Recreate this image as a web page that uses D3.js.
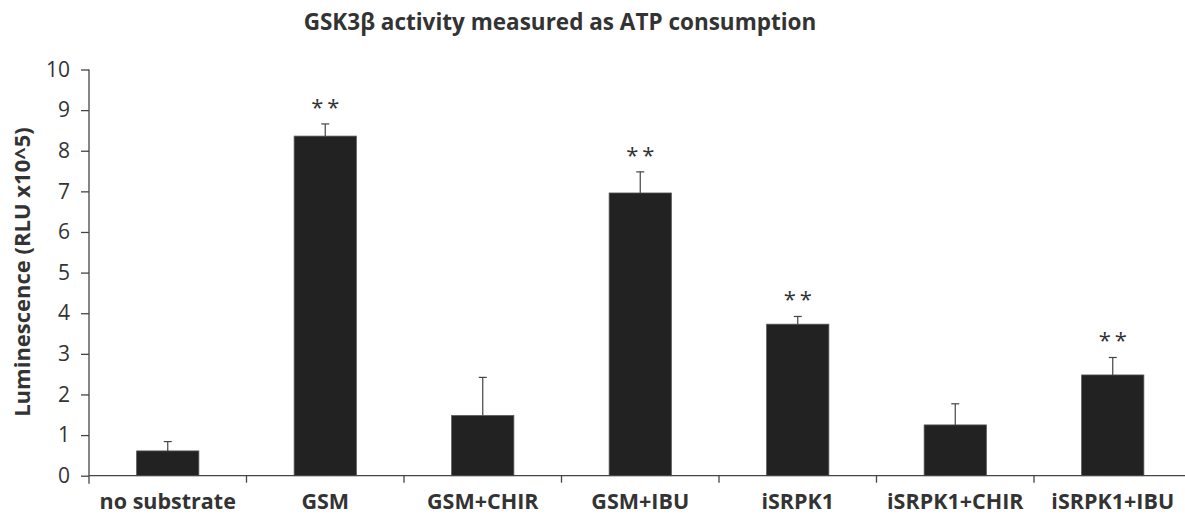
<!DOCTYPE html>
<html><head><meta charset="utf-8">
<script src="https://cdn.jsdelivr.net/npm/d3@7"></script>
<style>
html,body{margin:0;padding:0;background:#fff;}
text{font-family:"Open Sans",sans-serif;fill:#333;}
</style></head>
<body>
<svg id="chart" width="1185" height="523"></svg>
<script>
const categories = ["no substrate","GSM","GSM+CHIR","GSM+IBU","iSRPK1","iSRPK1+CHIR","iSRPK1+IBU"];
const means = [0.61, 8.36, 1.48, 6.96, 3.73, 1.25, 2.48];
const errors = [0.23, 0.30, 0.94, 0.52, 0.19, 0.52, 0.43];
const significance = ["", "**", "", "**", "**", "", "**"];
const yTicks = [0,1,2,3,4,5,6,7,8,9,10];
const title = "GSK3\u03b2 activity measured as ATP consumption";
const yLabel = "Luminescence (RLU x10^5)";

const svg = d3.select("#chart");
const margin = {left: 89};
const x = d3.scaleBand().domain(categories).range([89, 89 + 7*157.5]).paddingInner(0.605).paddingOuter(0.3025);
const y = d3.scaleLinear().domain([0,10]).range([475.7, 69.5]);

// bars
svg.append("g").selectAll("rect").data(categories).join("rect")
  .attr("x", d => x(d)).attr("width", x.bandwidth())
  .attr("y", (d,i) => y(means[i])).attr("height", (d,i) => y(0) - y(means[i]))
  .attr("fill", "#222").attr("stroke", "#555").attr("stroke-width", 0.8);

// error bars (upper only)
const eg = svg.append("g").attr("stroke", "#444").attr("stroke-width", 1.2);
categories.forEach((c,i) => {
  const cx = x(c) + x.bandwidth()/2;
  eg.append("line").attr("x1", cx).attr("x2", cx).attr("y1", y(means[i])).attr("y2", y(means[i]+errors[i]));
  eg.append("line").attr("x1", cx-4).attr("x2", cx+4).attr("y1", y(means[i]+errors[i])).attr("y2", y(means[i]+errors[i]));
});

// significance
svg.append("g").selectAll("text").data(categories).join("text")
  .attr("x", d => x(d) + x.bandwidth()/2 + 2)
  .attr("y", (d,i) => y(means[i]+errors[i]) - 9)
  .attr("text-anchor", "middle").style("font-size", "22px").style("letter-spacing", "4px").style("fill", "#333")
  .text((d,i) => significance[i]);

// y axis
const yAxis = svg.append("g").attr("transform", `translate(${margin.left},0)`)
  .call(d3.axisLeft(y).tickValues(yTicks).tickSize(8).tickPadding(11).tickFormat(d3.format("d")));
yAxis.select(".domain").attr("stroke", "#444").attr("stroke-width", 1.3).attr("d", `M0,${y(10)}V${y(0)+8}`);
yAxis.selectAll(".tick line").attr("stroke", "#444").attr("stroke-width", 1.3);
yAxis.selectAll(".tick text").style("font-size", "21px").style("fill", "#333").style("font-family", "Open Sans, sans-serif");

// x axis
const xg = svg.append("g").attr("transform", `translate(0,${y(0)})`);
xg.append("line").attr("x1", 89).attr("x2", 1185).attr("y1", 0).attr("y2", 0).attr("stroke", "#444").attr("stroke-width", 1.3);
xg.selectAll("line.b").data(categories.slice(0, -1)).join("line").attr("class","b")
  .attr("x1", d => x(d) + x.step() - x.step()*x.paddingInner()/2)
  .attr("x2", d => x(d) + x.step() - x.step()*x.paddingInner()/2)
  .attr("y1", 0).attr("y2", 7).attr("stroke", "#444").attr("stroke-width", 1.3);
xg.selectAll("text").data(categories).join("text")
  .attr("x", d => x(d) + x.bandwidth()/2).attr("y", 33.5)
  .attr("text-anchor", "middle").style("font-size", "21.5px").style("font-weight", "bold")
  .text(d => d);

// y label
svg.append("text").attr("transform", "translate(30,272) rotate(-90)")
  .attr("text-anchor", "middle").style("font-size", "22px").style("font-weight", "bold").text(yLabel);

// title
svg.append("text").attr("x", 560).attr("y", 30).attr("text-anchor", "middle")
  .style("font-size", "22.5px").style("font-weight", "bold").text(title);
</script>
</body></html>
